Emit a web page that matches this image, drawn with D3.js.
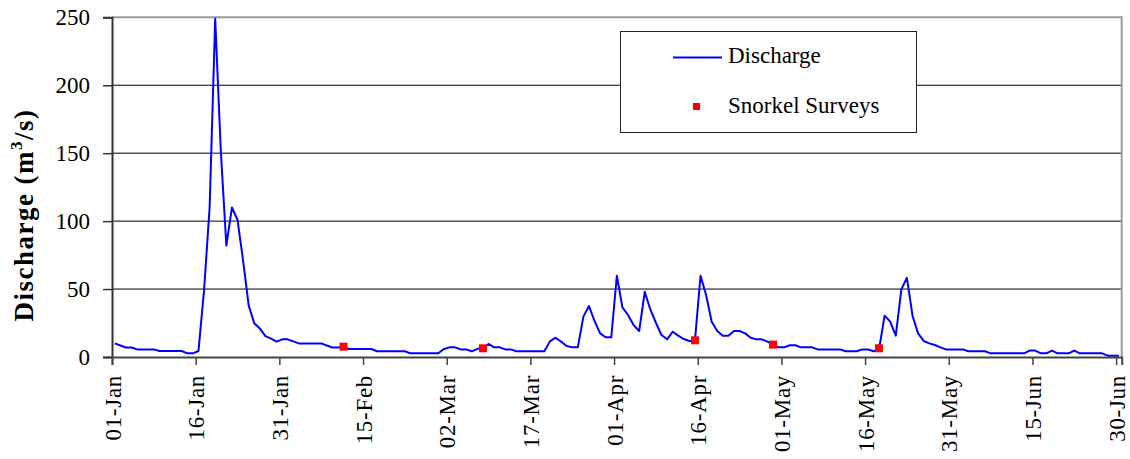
<!DOCTYPE html>
<html>
<head>
<meta charset="utf-8">
<script src="https://cdn.jsdelivr.net/npm/d3@7/dist/d3.min.js"></script>
<style>
  html, body { margin: 0; padding: 0; background: #fff; }
  svg { display: block; }
  svg text { font-family: 'Liberation Serif', 'Times New Roman', Times, 'DejaVu Serif', serif !important; fill: #000; }
</style>
</head>
<body>
<svg id="chart" width="1130" height="459"></svg>
<script>
// ---------------- DATA ----------------
const startDate = "2001-01-01";           // first day of the daily series
const endDate = "2001-07-01";             // axis end (end of 30-Jun)
// Daily discharge (m3/s), 01-Jan .. 30-Jun
const discharge = [
  10, 8.5, 7, 7, 5.6, 5.6, 5.6, 5.6, 4.4, 4.4,
  4.4, 4.4, 4.4, 2.7, 2.7, 4.4, 49, 110, 249, 152,
  82, 110, 101, 71, 38, 24.8, 21, 15.4, 13.5, 11.3,
  13, 13, 11.5, 10, 10, 10, 10, 10, 8.5, 7,
  7, 7.3, 5.9, 5.9, 5.9, 5.9, 5.9, 4.2, 4.2, 4.2,
  4.2, 4.2, 4.2, 2.7, 2.7, 2.7, 2.7, 2.7, 2.7, 5.9,
  7.1, 7.1, 5.6, 5.6, 4.2, 6, 6.4, 9.6, 7.1, 7.1,
  5.6, 5.6, 4.2, 4.2, 4.2, 4.2, 4.2, 4.2, 11.5, 14.2,
  11.3, 8.1, 7.1, 7.1, 29.7, 37.5, 26.5, 17.4, 14.5, 14.5,
  59.8, 36.5, 30.9, 23.5, 19.1, 48, 35, 25.2, 16.2, 13,
  18.6, 15.7, 13.2, 11.8, 12, 59.8, 45.6, 26, 19.1, 15.7,
  15.7, 19.1, 19.1, 17.4, 14.2, 13, 13, 11.3, 9.1, 7.1,
  7.1, 8.6, 8.6, 7.1, 7.1, 7.1, 5.6, 5.6, 5.6, 5.6,
  5.6, 4.2, 4.2, 4.2, 5.6, 5.6, 4.2, 5.5, 30.4, 26,
  15.7, 49.8, 58.3, 30.4, 17.4, 11.8, 10, 8.8, 7.1, 5.6,
  5.6, 5.6, 5.6, 4.2, 4.2, 4.2, 4.2, 2.7, 2.7, 2.7,
  2.7, 2.7, 2.7, 2.7, 4.7, 4.7, 2.7, 2.7, 4.7, 2.7,
  2.7, 2.7, 4.7, 2.7, 2.7, 2.7, 2.7, 2.7, 1, 1,
  1
];
// Snorkel survey dates and discharge at those dates
const surveyDates = ["2001-02-11", "2001-03-08", "2001-04-15", "2001-04-29", "2001-05-18"];
const surveyValues = [7.6, 6.4, 12.3, 9.1, 6.4];
// Axis tick labels
const xTickLabels = ["01-Jan", "16-Jan", "31-Jan", "15-Feb", "02-Mar", "17-Mar", "01-Apr",
                     "16-Apr", "01-May", "16-May", "31-May", "15-Jun", "30-Jun"];
const yTickValues = [0, 50, 100, 150, 200, 250];
const seriesNames = ["Discharge", "Snorkel Surveys"];

// ---------------- CHART ----------------
const SERIF = "'Liberation Serif', 'Times New Roman', Times, 'DejaVu Serif', serif";
const parseISO = d3.utcParse("%Y-%m-%d");
const parseLabel = d3.utcParse("%d-%b-%Y");
const DAY = 864e5;
const t0 = parseISO(startDate);

const lineData = discharge.map((v, i) => ({ date: new Date(t0.getTime() + i * DAY), value: v }));
const surveyData = surveyDates.map((d, i) => ({ date: parseISO(d), value: surveyValues[i] }));
const tickDates = xTickLabels.map(l => parseLabel(l + "-2001"));

const L = 112, R = 1121.7, T = 17.3, B = 357;
const FONT = 23;

const x = d3.scaleUtc().domain([t0, parseISO(endDate)]).range([L, R]);
const y = d3.scaleLinear().domain([0, 250]).range([B, T]);
const mid = d => new Date(d.getTime() + DAY / 2);   // points centred within each day

const svg = d3.select("#chart").style("font-family", SERIF);

// gridlines
svg.append("g").selectAll("line")
  .data(yTickValues.filter(v => v > 0 && v < 250))
  .join("line")
  .attr("x1", L).attr("x2", R)
  .attr("y1", d => y(d)).attr("y2", d => y(d))
  .attr("stroke", "#000").attr("stroke-width", 1);

// plot frame (top/right gray)
svg.append("path")
  .attr("d", `M${L},${y(250)}H${R}V${B}`)
  .attr("fill", "none").attr("stroke", "#9a9a9a").attr("stroke-width", 2);

// line
const line = d3.line().x(d => x(mid(d.date))).y(d => y(d.value));
svg.append("path")
  .datum(lineData)
  .attr("d", line)
  .attr("fill", "none")
  .attr("stroke", "#0000ff")
  .attr("stroke-width", 2)
  .attr("stroke-linejoin", "round");

// survey markers
svg.append("g").selectAll("rect")
  .data(surveyData)
  .join("rect")
  .attr("x", d => x(mid(d.date)) - 4)
  .attr("y", d => y(d.value) - 4)
  .attr("width", 8).attr("height", 8)
  .attr("fill", "#ff0000");

// y axis
const yAxis = svg.append("g")
  .attr("transform", `translate(${L},0)`)
  .call(d3.axisLeft(y).tickValues(yTickValues).tickSize(9).tickPadding(13).tickFormat(d3.format("d")));
yAxis.attr("font-family", null).style("font-family", SERIF);
yAxis.select(".domain").attr("stroke", "#333").attr("stroke-width", 2);
yAxis.selectAll(".tick line").attr("stroke", "#333").attr("stroke-width", 1.5);
yAxis.selectAll("text")
  .style("font-family", SERIF)
  .attr("font-size", FONT).attr("fill", "#000");

// x axis
const xAxis = svg.append("g")
  .attr("transform", `translate(0,${B})`)
  .call(d3.axisBottom(x).tickValues(tickDates).tickSize(8)
        .tickFormat((d, i) => xTickLabels[i]));
xAxis.attr("font-family", null).style("font-family", SERIF);
xAxis.select(".domain").attr("stroke", "#444").attr("stroke-width", 2);
xAxis.selectAll(".tick line").attr("stroke", "#444").attr("stroke-width", 1.5);
xAxis.selectAll("text")
  .style("font-family", SERIF)
  .style("letter-spacing", "0.7px")
  .attr("font-size", FONT).attr("fill", "#000")
  .attr("transform", "rotate(-90)")
  .attr("text-anchor", "end")
  .attr("x", -18).attr("y", 0).attr("dy", "0.35em");

// y axis title
const yt = svg.append("text")
  .attr("transform", "translate(33,215) rotate(-90)")
  .attr("text-anchor", "middle")
  .style("font-family", SERIF)
  .style("letter-spacing", "1.5px")
  .attr("font-size", 27).attr("font-weight", "bold");
yt.append("tspan").text("Discharge (m");
yt.append("tspan").attr("dy", -11).attr("font-size", 17).text("3");
yt.append("tspan").attr("dy", 11).text("/s)");

// legend
const lg = svg.append("g").style("font-family", SERIF);
lg.append("rect")
  .attr("x", 620.5).attr("y", 31.5).attr("width", 296).attr("height", 101)
  .attr("fill", "#fff").attr("stroke", "#222").attr("stroke-width", 1);
lg.append("line")
  .attr("x1", 673).attr("x2", 722).attr("y1", 57.5).attr("y2", 57.5)
  .attr("stroke", "#0000ff").attr("stroke-width", 2);
lg.append("text").attr("x", 728).attr("y", 63.3).attr("font-size", FONT).text(seriesNames[0]);
lg.append("rect")
  .attr("x", 693).attr("y", 103).attr("width", 7).attr("height", 7).attr("fill", "#ff0000");
lg.append("text").attr("x", 728).attr("y", 112.7).attr("font-size", FONT).text(seriesNames[1]);
</script>
</body>
</html>
